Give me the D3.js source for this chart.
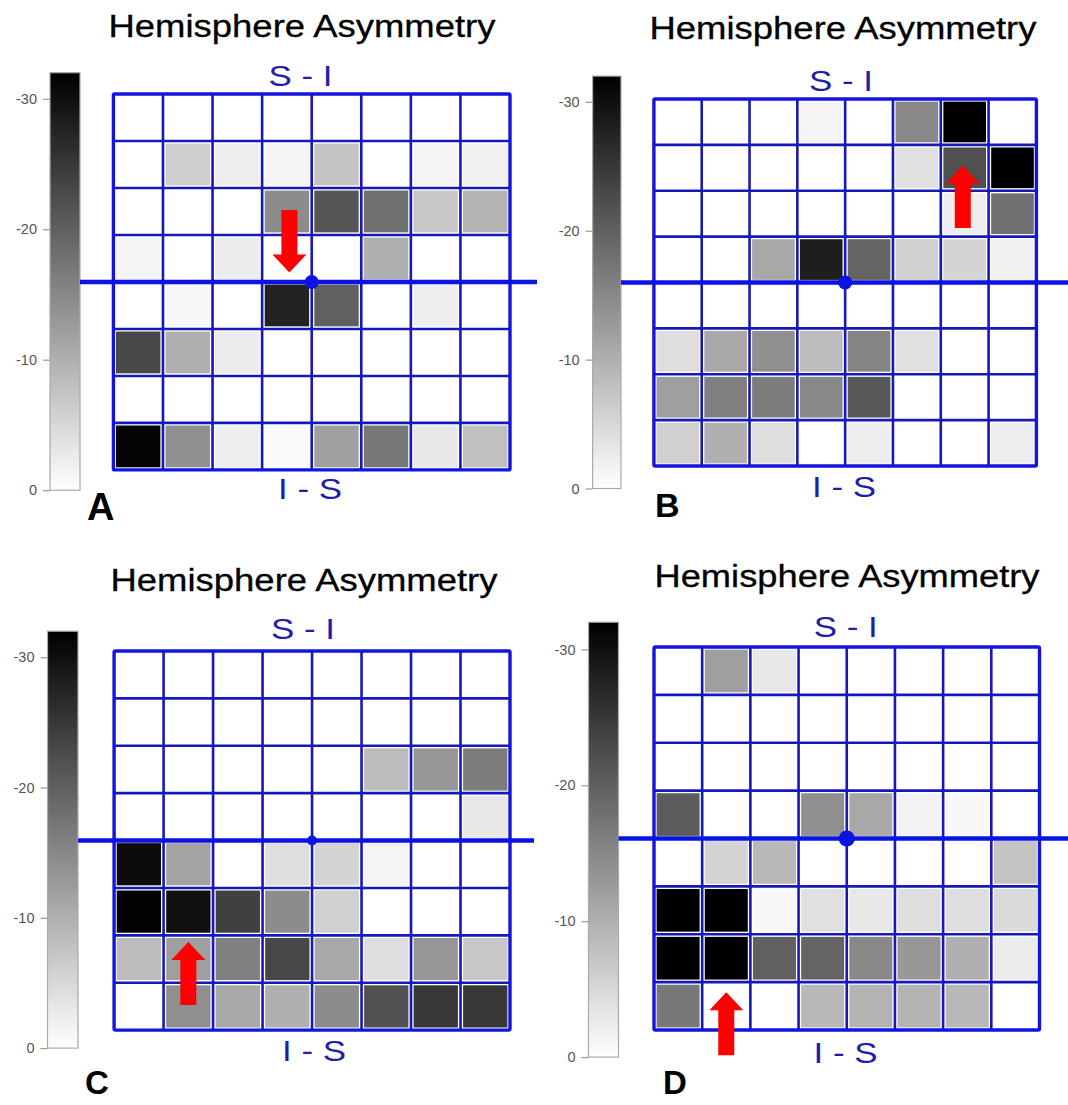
<!DOCTYPE html>
<html>
<head>
<meta charset="utf-8">
<script src="https://cdn.jsdelivr.net/npm/d3@7"></script>
<style>
  body { margin: 0; background: #fff; }
  svg { display: block; }
</style>
</head>
<body>
<svg id="fig" width="1068" height="1105"></svg>
<script>
// ---- data ---------------------------------------------------------------
const rowIndex = d3.range(8);
const colIndex = d3.range(8);
const scaleTicks = [-30, -20, -10, 0];
const scaleDomain = [-32, 0];
const panelLetters = ["A", "B", "C", "D"];
const titleText = "Hemisphere Asymmetry";
const topLabel = "S - I";
const bottomLabel = "I - S";

// asymmetry values per cell, rows top (S) to bottom (I), columns left to right
const valuesA = [
  [0, 0, 0, 0, 0, 0, 0, 0],
  [0, -6, -2.1, -1.3, -7.4, 0, -1.4, -1.9],
  [0, 0, 0, -14.4, -21.3, -17.9, -6.9, -9.4],
  [-1.4, 0, -2.4, 0, 0, -9.9, 0, 0],
  [0, -0.9, 0, -27.7, -20, 0, -2.1, 0],
  [-23, -9.9, -2.4, 0, 0, 0, 0, 0],
  [0, 0, 0, 0, 0, 0, 0, 0],
  [-31.5, -13.9, -2.1, -0.6, -11.9, -16.9, -2.9, -7.9]
];
const valuesB = [
  [0, 0, 0, -1.4, 0, -14.9, -32, 0],
  [0, 0, 0, 0, 0, -3.9, -22, -32],
  [0, 0, 0, 0, 0, 0, -2.1, -18],
  [0, 0, -10.9, -28.2, -19.5, -5.9, -5.4, -1.9],
  [0, 0, 0, 0, 0, 0, 0, 0],
  [-4.1, -10.9, -14, -8.4, -15.4, -3.9, 0, 0],
  [-12, -16, -16.4, -14.9, -20.9, 0, 0, 0],
  [-5.9, -9.9, -4.1, 0, -2.1, 0, 0, -2.1]
];
const valuesC = [
  [0, 0, 0, 0, 0, 0, 0, 0],
  [0, 0, 0, 0, 0, 0, 0, 0],
  [0, 0, 0, 0, 0, -8.4, -13, -16.4],
  [0, 0, 0, 0, 0, 0, 0, -2.9],
  [-30.5, -11.5, 0, -4.1, -5.4, -1.4, 0, 0],
  [-31.7, -30, -24, -14.4, -5.9, 0, 0, 0],
  [-8.4, -12, -16, -23, -10.9, -4.1, -13, -6.9],
  [0, -14, -10.9, -9.9, -14.4, -22, -25, -25]
];
const valuesD = [
  [0, -12, -2.9, 0, 0, 0, 0, 0],
  [0, 0, 0, 0, 0, 0, 0, 0],
  [0, 0, 0, 0, 0, 0, 0, 0],
  [-20.5, 0, 0, -14, -10.9, -1.6, -0.9, 0],
  [0, -5.4, -8.9, 0, 0, 0, 0, -7.4],
  [-32, -32, -0.9, -3.9, -2.9, -4.1, -4.1, -4.6],
  [-32, -32, -20, -19.5, -14.9, -13, -9.9, -2.4],
  [-17, 0, 0, -8.9, -9.4, -9.4, -8.9, 0]
];
const panelValues = [valuesA, valuesB, valuesC, valuesD];

// ---- layout -------------------------------------------------------------
const layout = [
  { title: { cx: 302, y: 36.5, w: 387 }, bar: { x0: 50, x1: 80, y0: 72.7, y1: 490.2 },
    grid: { x0: 113.4, x1: 510, y0: 94, y1: 469.9 }, line: { x0: 80, x1: 537 }, dotR: 7,
    top: { cx: 300.5, y: 86.2 }, bottom: { cx: 310, y: 498.6 },
    letter: { x: 87, y: 520, size: 38 }, arrow: { col: 3.55, from: 2.47, to: 3.80 } },
  { title: { cx: 843, y: 39, w: 387 }, bar: { x0: 592.6, x1: 621, y0: 76.1, y1: 488.5 },
    grid: { x0: 653.9, x1: 1036.4, y0: 99, y1: 466 }, line: { x0: 621, x1: 1068 }, dotR: 7,
    top: { cx: 841, y: 91.3 }, bottom: { cx: 844, y: 497 },
    letter: { x: 655, y: 517, size: 34 }, arrow: { col: 6.46, from: 2.81, to: 1.45 } },
  { title: { cx: 304, y: 590.5, w: 387 }, bar: { x0: 47.5, x1: 78, y0: 631.2, y1: 1048.1 },
    grid: { x0: 114.1, x1: 510, y0: 651, y1: 1030.1 }, line: { x0: 78, x1: 534 }, dotR: 5,
    top: { cx: 303, y: 639 }, bottom: { cx: 314, y: 1060.7 },
    letter: { x: 85, y: 1094, size: 33 }, arrow: { col: 1.5, from: 7.47, to: 6.14 } },
  { title: { cx: 847, y: 586.8, w: 385 }, bar: { x0: 588.5, x1: 618.5, y0: 622.2, y1: 1057.1 },
    grid: { x0: 654, x1: 1039.5, y0: 647, y1: 1030 }, line: { x0: 618.5, x1: 1068 }, dotR: 8,
    top: { cx: 845.8, y: 637.3 }, bottom: { cx: 845.6, y: 1062.5 },
    letter: { x: 663, y: 1094, size: 33 }, arrow: { col: 1.5, from: 8.53, to: 7.21 } }
];

const FONT = "'Liberation Sans', Arial, Helvetica, sans-serif";
const GRID_BLUE = "#1818b8";
const LINE_BLUE = "#0b12e4";
const LABEL_BLUE = "#1e1ea8";

const svg = d3.select("#fig");

// grey ramp: 0 -> white, -32 -> black
const shade = d3.scaleLinear().domain(scaleDomain).range(["#000000", "#ffffff"]).clamp(true);

// shared vertical gradient for the colour bars
const defs = svg.append("defs");
const grad = defs.append("linearGradient")
  .attr("id", "greyRamp").attr("x1", 0).attr("y1", 0).attr("x2", 0).attr("y2", 1);
d3.range(0, 1.0001, 0.1).forEach(t => {
  const v = scaleDomain[0] + t * (scaleDomain[1] - scaleDomain[0]);
  grad.append("stop").attr("offset", t).attr("stop-color", shade(v));
});

layout.forEach((L, i) => {
  const g = svg.append("g").attr("class", "panel-" + panelLetters[i]);
  const values = panelValues[i];

  // title
  g.append("text")
    .attr("x", L.title.cx).attr("y", L.title.y)
    .attr("text-anchor", "middle")
    .attr("textLength", L.title.w).attr("lengthAdjust", "spacingAndGlyphs")
    .style("font-family", FONT).style("font-size", "31px").attr("fill", "#000")
    .attr("stroke", "#000").attr("stroke-width", 0.3)
    .text(titleText);

  // colour bar with its axis
  const barScale = d3.scaleLinear().domain(scaleDomain).range([L.bar.y0, L.bar.y1]);
  g.append("rect")
    .attr("x", L.bar.x0).attr("y", L.bar.y0)
    .attr("width", L.bar.x1 - L.bar.x0).attr("height", L.bar.y1 - L.bar.y0)
    .attr("fill", "url(#greyRamp)").attr("stroke", "#aaa").attr("stroke-width", 1.2);
  const axis = g.append("g")
    .attr("transform", `translate(${L.bar.x0},0)`)
    .call(d3.axisLeft(barScale).tickValues(scaleTicks).tickSize(7).tickPadding(6)
      .tickFormat(d3.format("d")));
  axis.select(".domain").remove();
  axis.selectAll(".tick line").attr("stroke", "#999").attr("stroke-width", 1.2);
  axis.selectAll(".tick text")
    .style("font-family", FONT).style("font-size", "14.5px").attr("fill", "#555")
    .text(d => d === 0 ? "0" : "-" + Math.abs(d));

  // grid scales
  const x = d3.scaleBand().domain(colIndex).range([L.grid.x0, L.grid.x1]);
  const y = d3.scaleBand().domain(rowIndex).range([L.grid.y0, L.grid.y1]);
  const xc = d3.scaleLinear().domain([0, 8]).range([L.grid.x0, L.grid.x1]);
  const yc = d3.scaleLinear().domain([0, 8]).range([L.grid.y0, L.grid.y1]);
  const inset = 2.6;

  const cells = [];
  rowIndex.forEach(r => colIndex.forEach(c => cells.push({ r, c, v: values[r][c] })));
  g.append("g").selectAll("rect").data(cells).join("rect")
    .attr("x", d => x(d.c) + inset).attr("y", d => y(d.r) + inset)
    .attr("width", x.bandwidth() - 2 * inset).attr("height", y.bandwidth() - 2 * inset)
    .attr("fill", d => shade(d.v));

  // grid lines
  const gl = g.append("g").attr("stroke", GRID_BLUE).attr("stroke-width", 2.6);
  d3.range(1, 8).forEach(k => {
    gl.append("line").attr("x1", xc(k)).attr("x2", xc(k)).attr("y1", yc(0)).attr("y2", yc(8));
    gl.append("line").attr("y1", yc(k)).attr("y2", yc(k)).attr("x1", xc(0)).attr("x2", xc(8));
  });
  g.append("rect")
    .attr("x", xc(0)).attr("y", yc(0)).attr("width", xc(8) - xc(0)).attr("height", yc(8) - yc(0))
    .attr("fill", "none").attr("stroke", "#1414dc").attr("stroke-width", 3.4).attr("rx", 1.5);

  // horizontal midline and centre point
  g.append("line")
    .attr("x1", L.line.x0).attr("x2", L.line.x1).attr("y1", yc(4)).attr("y2", yc(4))
    .attr("stroke", LINE_BLUE).attr("stroke-width", 4.6);
  g.append("circle")
    .attr("cx", xc(4)).attr("cy", yc(4)).attr("r", L.dotR).attr("fill", LINE_BLUE);

  // axis labels above and below the grid
  g.append("text")
    .attr("x", L.top.cx).attr("y", L.top.y).attr("text-anchor", "middle")
    .attr("textLength", 64).attr("lengthAdjust", "spacingAndGlyphs")
    .style("font-family", FONT).style("font-size", "30px").attr("fill", LABEL_BLUE)
    .text(topLabel);
  g.append("text")
    .attr("x", L.bottom.cx).attr("y", L.bottom.y).attr("text-anchor", "middle")
    .attr("textLength", 64).attr("lengthAdjust", "spacingAndGlyphs")
    .style("font-family", FONT).style("font-size", "30px").attr("fill", LABEL_BLUE)
    .text(bottomLabel);

  // highlight arrow
  const ax = xc(L.arrow.col);
  const yTail = yc(L.arrow.from), yTip = yc(L.arrow.to);
  const dir = Math.sign(yTip - yTail);
  const shaftHalf = 8, headHalf = 17, headLen = 18;
  const yBase = yTip - dir * headLen;
  const arrowPath = d3.path();
  arrowPath.moveTo(ax - shaftHalf, yTail);
  arrowPath.lineTo(ax - shaftHalf, yBase);
  arrowPath.lineTo(ax - headHalf, yBase);
  arrowPath.lineTo(ax, yTip);
  arrowPath.lineTo(ax + headHalf, yBase);
  arrowPath.lineTo(ax + shaftHalf, yBase);
  arrowPath.lineTo(ax + shaftHalf, yTail);
  arrowPath.closePath();
  g.append("path").attr("d", arrowPath.toString()).attr("fill", "#fe0000");

  // panel letter
  g.append("text")
    .attr("x", L.letter.x).attr("y", L.letter.y)
    .style("font-family", FONT).style("font-size", L.letter.size + "px")
    .style("font-weight", "bold").attr("fill", "#000")
    .text(panelLetters[i]);
});
</script>
</body>
</html>
